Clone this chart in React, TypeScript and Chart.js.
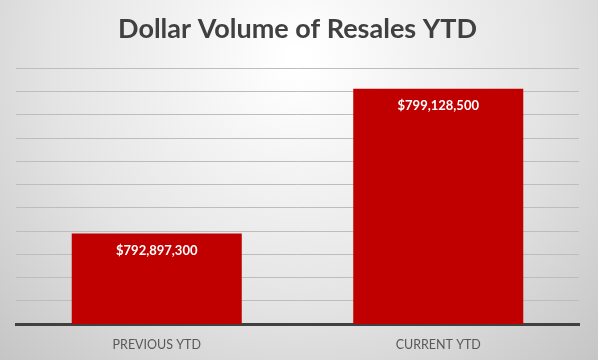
import React, { useEffect, useRef } from "react";
import { Chart, registerables } from "chart.js";

Chart.register(...registerables);

const categories = ["PREVIOUS YTD", "CURRENT YTD"];
const values = [792897300, 799128500];
const yMin = 789000000;
const yMax = 800000000;
const yStep = 1000000;
const title = "Dollar Volume of Resales YTD";

const FONT = "Lato, 'Open Sans', sans-serif";

const bgPlugin = {
  id: "bgGradient",
  beforeDraw(chart: any) {
    const { ctx, width, height } = chart;
    ctx.save();
    const g = ctx.createRadialGradient(width / 2, 60, 10, width / 2, 60, 440);
    g.addColorStop(0, "#ffffff");
    g.addColorStop(0.55, "#e4e4e4");
    g.addColorStop(1, "#c2c2c2");
    ctx.fillStyle = g;
    ctx.fillRect(0, 0, width, height);
    ctx.restore();
  },
};

const labelPlugin = {
  id: "barLabels",
  afterDatasetsDraw(chart: any) {
    const { ctx } = chart;
    const meta = chart.getDatasetMeta(0);
    ctx.save();
    ctx.fillStyle = "#ffffff";
    ctx.font = `bold 13px ${FONT}`;
    ctx.textAlign = "center";
    ctx.textBaseline = "middle";
    meta.data.forEach((bar: any, i: number) => {
      const v = values[i];
      ctx.fillText("$" + v.toLocaleString("en-US"), bar.x, bar.y + 17);
    });
    ctx.restore();
  },
};

export default function App() {
  const ref = useRef<HTMLCanvasElement>(null);
  useEffect(() => {
    const chart = new Chart(ref.current!, {
      type: "bar",
      data: {
        labels: categories,
        datasets: [
          {
            data: values,
            backgroundColor: "#C00000",
            borderWidth: 0,
            categoryPercentage: 1,
            barPercentage: 0.604,
          },
        ],
      },
      options: {
        animation: false,
        responsive: false,
        maintainAspectRatio: false,
        layout: { padding: { left: 16, right: 19, top: 0, bottom: -5 } },
        plugins: {
          legend: { display: false },
          tooltip: { enabled: false },
          title: {
            display: true,
            text: title,
            color: "#404040",
            font: { family: FONT, size: 27, weight: "bold" },
            padding: { top: 13, bottom: 23 },
          },
        },
        scales: {
          x: {
            grid: { display: false, drawTicks: false },
            border: { display: true, color: "#404040", width: 3 },
            ticks: {
              color: "#595959",
              font: { family: FONT, size: 12.5 },
              padding: 13,
            },
          },
          y: {
            min: yMin,
            max: yMax,
            ticks: { display: false, stepSize: yStep },
            grid: { color: "#bdbdbd", lineWidth: 1, drawTicks: false },
            border: { display: false },
          },
        },
      },
      plugins: [bgPlugin, labelPlugin],
    });
    return () => chart.destroy();
  }, []);
  return (
    <div style={{ position: "fixed", left: 0, top: 0, width: 598, height: 360 }}>
      <canvas ref={ref} width={598} height={360} style={{ display: "block" }} />
    </div>
  );
}
